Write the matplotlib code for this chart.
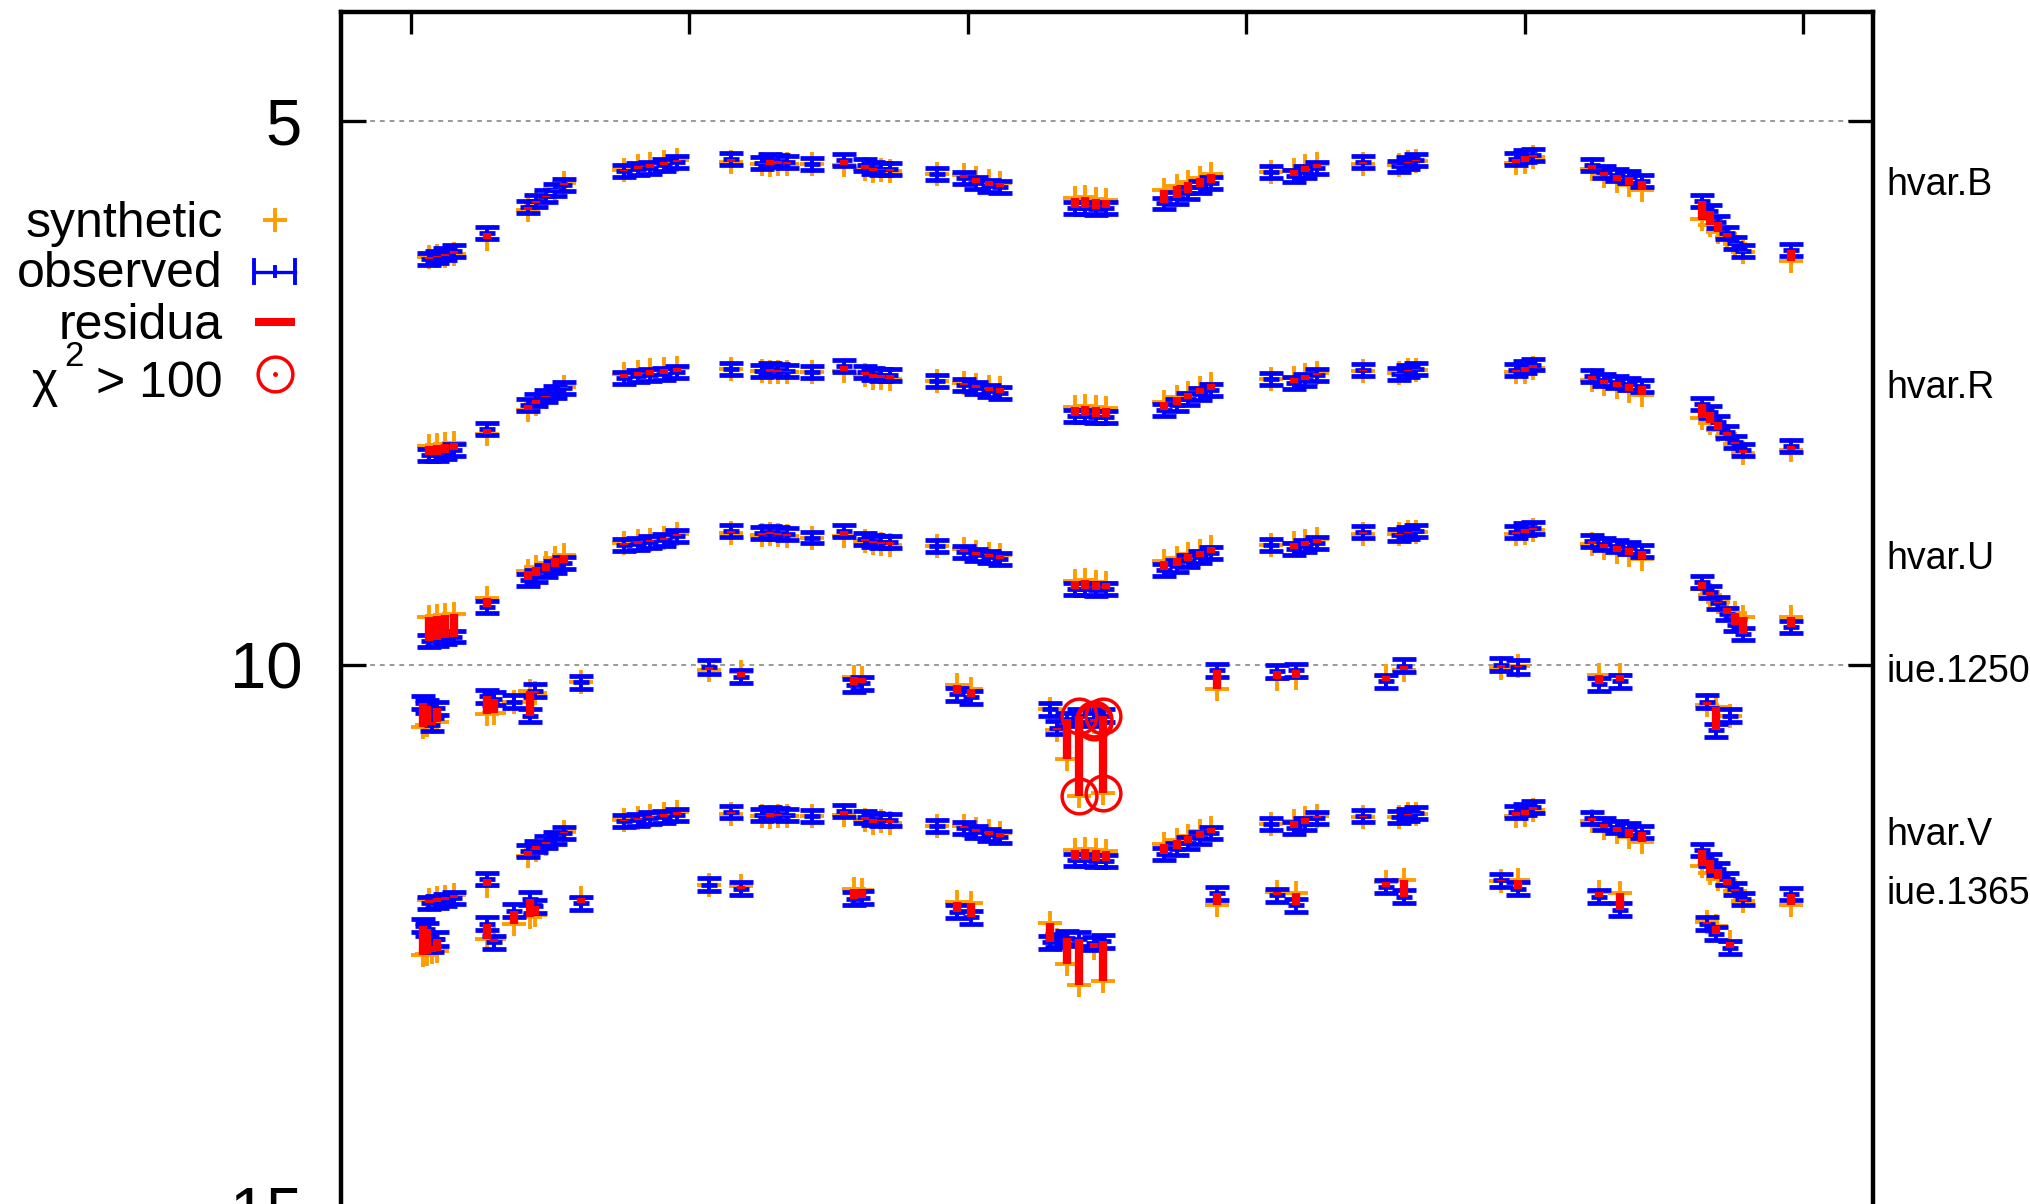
import numpy as np
import matplotlib
matplotlib.use('Agg')
import matplotlib.pyplot as plt
from matplotlib.lines import Line2D
from matplotlib.transforms import blended_transform_factory

plt.rcParams['font.family'] = ['Liberation Sans', 'DejaVu Sans']

# hvar photometry: all four bands share the same epochs
hvar_phase = [0.013, 0.019, 0.025, 0.031,
              0.055,
              0.084, 0.090, 0.097, 0.104, 0.110,
              0.153, 0.163, 0.172, 0.182, 0.191,
              0.230,
              0.252, 0.258, 0.264, 0.270,
              0.288,
              0.311,
              0.326, 0.332, 0.338, 0.344,
              0.378,
              0.397, 0.406, 0.415, 0.423,
              0.477, 0.484, 0.492, 0.499,
              0.541, 0.550, 0.558, 0.567, 0.575,
              0.618, 0.634, 0.642, 0.651,
              0.684,
              0.710, 0.716, 0.722,
              0.794, 0.800, 0.806,
              0.848, 0.857, 0.866, 0.875, 0.884,
              0.927, 0.933, 0.939, 0.945, 0.951, 0.957,
              0.991]

hvar_B_obs = [6.27, 6.25, 6.22, 6.20, 6.03,
              5.79, 5.74, 5.69, 5.64, 5.59,
              5.46, 5.44, 5.43, 5.41, 5.38, 5.35,
              5.39, 5.36, 5.37, 5.38, 5.40, 5.36,
              5.41, 5.43, 5.44, 5.44, 5.49,
              5.53, 5.57, 5.60, 5.61,
              5.80, 5.80, 5.81, 5.80,
              5.76, 5.71, 5.66, 5.61, 5.57,
              5.47, 5.51, 5.47, 5.43, 5.38,
              5.42, 5.39, 5.36, 5.35, 5.32, 5.31,
              5.41, 5.47, 5.50, 5.52, 5.55,
              5.74, 5.83, 5.93, 6.03, 6.12, 6.20, 6.19]
hvar_B_syn = [6.25, 6.24, 6.24, 6.22, 6.09,
              5.82, 5.76, 5.70, 5.63, 5.57,
              5.45, 5.42, 5.40, 5.38, 5.36, 5.38,
              5.40, 5.41, 5.40, 5.40, 5.40, 5.41,
              5.44, 5.46, 5.45, 5.46, 5.49,
              5.50, 5.53, 5.55, 5.57,
              5.71, 5.70, 5.72, 5.73,
              5.64, 5.60, 5.56, 5.53, 5.49,
              5.47, 5.45, 5.42, 5.40, 5.40,
              5.41, 5.38, 5.37, 5.39, 5.38, 5.33,
              5.44, 5.51, 5.55, 5.59, 5.64,
              5.90, 5.96, 6.02, 6.07, 6.13, 6.21, 6.29]

hvar_R_obs = [8.07, 8.07, 8.05, 8.03, 7.83,
              7.61, 7.57, 7.53, 7.49, 7.46,
              7.36, 7.35, 7.34, 7.33, 7.31, 7.28,
              7.30, 7.28, 7.29, 7.30, 7.31, 7.25,
              7.31, 7.33, 7.34, 7.34, 7.39,
              7.43, 7.46, 7.48, 7.50,
              7.71, 7.71, 7.72, 7.72,
              7.66, 7.61, 7.56, 7.51, 7.47,
              7.37, 7.41, 7.38, 7.34, 7.29,
              7.33, 7.30, 7.28, 7.29, 7.26, 7.24,
              7.35, 7.38, 7.40, 7.42, 7.44,
              7.60, 7.68, 7.77, 7.86, 7.95, 8.03, 7.99]
hvar_R_syn = [7.99, 7.98, 7.97, 7.96, 7.88,
              7.66, 7.60, 7.54, 7.49, 7.45,
              7.33, 7.31, 7.29, 7.28, 7.27, 7.28,
              7.30, 7.31, 7.31, 7.31, 7.31, 7.30,
              7.34, 7.36, 7.36, 7.37, 7.39,
              7.41, 7.43, 7.45, 7.46,
              7.63, 7.62, 7.63, 7.64,
              7.58, 7.54, 7.50, 7.46, 7.42,
              7.37, 7.36, 7.34, 7.32, 7.30,
              7.32, 7.29, 7.29, 7.31, 7.31, 7.27,
              7.38, 7.42, 7.45, 7.48, 7.52,
              7.73, 7.78, 7.84, 7.90, 7.97, 8.05, 8.03]

hvar_U_obs = [9.78, 9.77, 9.75, 9.74, 9.47,
              9.22, 9.18, 9.14, 9.10, 9.06,
              8.90, 8.89, 8.87, 8.85, 8.82, 8.77,
              8.79, 8.78, 8.79, 8.80, 8.83, 8.77,
              8.84, 8.86, 8.87, 8.87, 8.91,
              8.96, 8.99, 9.01, 9.03,
              9.30, 9.30, 9.31, 9.30,
              9.13, 9.09, 9.05, 9.01, 8.97,
              8.90, 8.94, 8.91, 8.88, 8.78,
              8.81, 8.79, 8.77, 8.78, 8.75, 8.74,
              8.86, 8.89, 8.91, 8.93, 8.95,
              9.24, 9.33, 9.43, 9.53, 9.63, 9.72, 9.65]
hvar_U_syn = [9.56, 9.55, 9.54, 9.53, 9.39,
              9.14, 9.10, 9.06, 9.02, 8.99,
              8.88, 8.86, 8.85, 8.83, 8.80, 8.79,
              8.81, 8.80, 8.81, 8.82, 8.83, 8.82,
              8.86, 8.88, 8.89, 8.90, 8.91,
              8.94, 8.96, 8.98, 8.99,
              9.23, 9.22, 9.24, 9.25,
              9.05, 9.02, 8.98, 8.95, 8.92,
              8.90, 8.88, 8.86, 8.84, 8.80,
              8.80, 8.78, 8.78, 8.80, 8.79, 8.76,
              8.89, 8.93, 8.96, 8.99, 9.03,
              9.30, 9.36, 9.42, 9.48, 9.52, 9.56, 9.56]

hvar_V_obs = [12.19, 12.18, 12.16, 12.14, 11.97,
              11.71, 11.67, 11.63, 11.59, 11.55,
              11.44, 11.43, 11.41, 11.40, 11.38, 11.35,
              11.38, 11.36, 11.37, 11.38, 11.39, 11.34,
              11.40, 11.42, 11.43, 11.43, 11.48,
              11.50, 11.54, 11.56, 11.58,
              11.79, 11.79, 11.80, 11.80,
              11.74, 11.69, 11.64, 11.59, 11.55,
              11.46, 11.50, 11.46, 11.41, 11.39,
              11.40, 11.38, 11.36, 11.35, 11.33, 11.31,
              11.41, 11.46, 11.49, 11.51, 11.54,
              11.70, 11.79, 11.88, 11.97, 12.06, 12.15, 12.11]
hvar_V_syn = [12.16, 12.14, 12.13, 12.12, 12.03,
              11.76, 11.70, 11.65, 11.59, 11.54,
              11.43, 11.41, 11.39, 11.37, 11.35, 11.37,
              11.39, 11.40, 11.39, 11.39, 11.39, 11.38,
              11.43, 11.45, 11.44, 11.45, 11.48,
              11.48, 11.51, 11.53, 11.55,
              11.70, 11.69, 11.70, 11.71,
              11.65, 11.61, 11.57, 11.53, 11.50,
              11.46, 11.44, 11.41, 11.39, 11.40,
              11.40, 11.37, 11.37, 11.39, 11.38, 11.33,
              11.44, 11.50, 11.54, 11.58, 11.63,
              11.85, 11.91, 11.97, 12.02, 12.08, 12.17, 12.21]

# IUE ultraviolet fluxes, both windows taken from the same spectra
iue_phase = [0.009, 0.012, 0.015, 0.019,
             0.055, 0.060,
             0.074, 0.086, 0.089,
             0.122,
             0.214, 0.237,
             0.318, 0.324,
             0.392, 0.402,
             0.459, 0.464, 0.471, 0.480, 0.491, 0.497,
             0.579,
             0.622, 0.636,
             0.700, 0.713,
             0.783, 0.795,
             0.853, 0.868,
             0.931, 0.937, 0.947]

iue_1250_obs = [10.35, 10.38, 10.55, 10.40, 10.29, 10.31,
                10.34, 10.47, 10.24, 10.16, 10.02, 10.11,
                10.19, 10.17, 10.27, 10.30,
                10.41, 10.58, 10.50, 10.47, 10.50, 10.47,
                10.05, 10.06, 10.05, 10.15, 10.01,
                10.00, 10.02, 10.18, 10.15,
                10.34, 10.60, 10.47]
iue_1250_syn = [10.57, 10.55, 10.53, 10.53, 10.45, 10.44,
                10.34, 10.24, 10.26, 10.16, 10.05, 10.07,
                10.11, 10.12, 10.19, 10.22,
                10.41, 10.60, 10.87, 11.21, 10.53, 11.18,
                10.22, 10.13, 10.12, 10.10, 10.05,
                10.03, 10.01, 10.09, 10.09,
                10.37, 10.39, 10.47]
iue_1250_bad = [19, 20, 21]

iue_1365_obs = [12.40, 12.43, 12.58, 12.52, 12.38, 12.55,
                12.26, 12.15, 12.22, 12.19, 12.02, 12.06,
                12.15, 12.14, 12.27, 12.32,
                12.55, 12.53, 12.51, 12.52, 12.56, 12.54,
                12.10, 12.12, 12.21, 12.04, 12.13,
                11.98, 12.06, 12.13, 12.25,
                12.38, 12.47, 12.60]
iue_1365_syn = [12.67, 12.66, 12.64, 12.63, 12.52, 12.52,
                12.38, 12.32, 12.30, 12.14, 12.02, 12.03,
                12.06, 12.07, 12.18, 12.19,
                12.37, 12.53, 12.75, 12.94, 12.60, 12.91,
                12.21, 12.09, 12.10, 12.00, 11.98,
                11.99, 11.98, 12.09, 12.10,
                12.36, 12.40, 12.55]

hvar_err = 0.055
iue_err = 0.06

set_names = ['hvar.B', 'hvar.R', 'hvar.U', 'iue.1250', 'hvar.V', 'iue.1365']
set_label_y = [5.68, 7.55, 9.12, 10.16, 11.66, 12.20]

ORANGE = '#ff9d00'
W, H = 2030, 1204

fig = plt.figure(figsize=(W / 100, H / 100), dpi=100)

# magnitude axis runs from 4 down to 16; its lower part falls off the canvas
ax_top = 12
mag_px = 108.8
ymin, ymax = 4, 16
ax_h = (ymax - ymin) * mag_px
ax = fig.add_axes([341 / W, 1 - (ax_top + ax_h) / H, 1532 / W, ax_h / H])
ax.set_xlim(-0.05, 1.05)
ax.set_ylim(ymax, ymin)


def draw_set(phase, obs, syn, err, bad=()):
    phase = np.asarray(phase)
    obs = np.asarray(obs)
    syn = np.asarray(syn)
    ax.plot(phase, syn, ls='none', marker='+', ms=17, mew=2.8,
            color=ORANGE, zorder=2)
    ax.errorbar(phase, obs, yerr=err, fmt='_', ms=11, mew=3.4, color='blue',
                ecolor='blue', elinewidth=2.8, capsize=8.5, capthick=3.4,
                zorder=3)
    ax.vlines(phase, obs, syn, color='red', lw=6, zorder=4)
    if len(bad):
        idx = list(bad)
        for vals in (obs, syn):
            ax.plot(phase[idx], vals[idx], ls='none', marker='o', ms=25,
                    mfc='none', mec='red', mew=2.5, zorder=5)


draw_set(hvar_phase, hvar_B_obs, hvar_B_syn, hvar_err)
draw_set(hvar_phase, hvar_R_obs, hvar_R_syn, hvar_err)
draw_set(hvar_phase, hvar_U_obs, hvar_U_syn, hvar_err)
draw_set(iue_phase, iue_1250_obs, iue_1250_syn, iue_err, iue_1250_bad)
draw_set(hvar_phase, hvar_V_obs, hvar_V_syn, hvar_err)
draw_set(iue_phase, iue_1365_obs, iue_1365_syn, iue_err)

ax.set_xticks(np.arange(0, 1.01, 0.2))
ax.set_yticks([5, 10, 15])
ax.yaxis.grid(True, color='#999999', ls=(0, (2.5, 2.5)), lw=1.4)
ax.tick_params(direction='in', top=True, right=True, width=2.4,
               labelsize=47)
ax.tick_params(axis='x', length=16, labelbottom=False)
ax.tick_params(axis='y', length=18, pad=28)
for sp in ax.spines.values():
    sp.set_linewidth(3.2)

trans = blended_transform_factory(ax.transAxes, ax.transData)
for name, yv in zip(set_names, set_label_y):
    ax.text(1.0085, yv, name, transform=trans, ha='left', va='baseline',
            fontsize=27, clip_on=False)


# key on the left, drawn in canvas pixels
def fx(px):
    return px / W


def fy(py):
    return 1 - py / H


def key_line(xs, ys, **kw):
    fig.add_artist(Line2D([fx(v) for v in xs], [fy(v) for v in ys],
                          transform=fig.transFigure, **kw))


fig.text(fx(223), fy(237), 'synthetic', ha='right', va='baseline', fontsize=36)
fig.text(fx(223), fy(287), 'observed', ha='right', va='baseline', fontsize=36)
fig.text(fx(223), fy(339), 'residua', ha='right', va='baseline', fontsize=36)
fig.text(fx(223), fy(397), '> 100', ha='right', va='baseline', fontsize=36)
fig.text(fx(58), fy(397), '\u03c7', ha='right', va='baseline', fontsize=36)
fig.text(fx(64), fy(366), '2', ha='left', va='baseline', fontsize=25)

key_line([275], [220], ls='none', marker='+', ms=17, mew=2.8, color=ORANGE)
key_line([254, 295], [271.5, 271.5], color='blue', lw=2.4)
key_line([254, 254], [260, 283], color='blue', lw=2.8)
key_line([295, 295], [260, 283], color='blue', lw=2.8)
key_line([275, 275], [267, 276], color='blue', lw=2.8)
key_line([255, 295], [322, 322], color='red', lw=5.8, solid_capstyle='butt')
key_line([275], [373.5], ls='none', marker='o', ms=25, mfc='none', mec='red',
         mew=2.5)
key_line([275], [373.5], ls='none', marker='o', ms=2.5, color='red')

fig.savefig('out.png', dpi=100)
